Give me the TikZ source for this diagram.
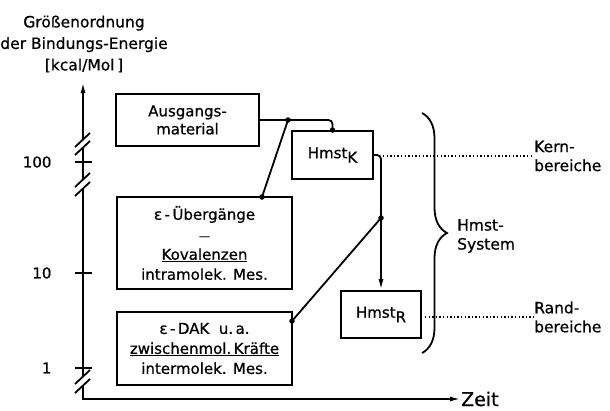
\documentclass[tikz,border=0pt]{standalone}
\usepackage{fontspec}
\setmainfont{DejaVu Sans}[UprightFeatures={FakeBold=0.7}]
\usetikzlibrary{arrows.meta,decorations.pathreplacing}
\begin{document}
\begin{tikzpicture}[x=1pt,y=-1pt,
  ln/.style={line width=1.8pt},
  bx/.style={draw,line width=1.8pt,inner sep=0pt,align=center,font=\fontsize{15}{20}\selectfont},
  dotc/.style={circle,fill,inner sep=0pt,minimum size=5.5pt},
  lbl/.style={font=\fontsize{15.5}{19}\selectfont,align=left,anchor=west,inner sep=0pt},
  arr/.style={-{Latex[length=11pt,width=5pt]}},
  dotl/.style={line width=1.3pt,dash pattern=on 1.3pt off 2.3pt},
  slashline/.style={line width=1.8pt}
]
\useasboundingbox (0,0) rectangle (610,410);

% title
\node[font=\fontsize{15.5}{21.5}\selectfont,align=center] (title) at (84,44)
  {Größenordnung\\der Bindungs-Energie\\{[}kcal/Mol\,{]}};

% boxes
\node[bx,minimum width=143pt,minimum height=52pt] (aus) at (187.5,120) {Ausgangs-\\[-2pt]material};
\node[bx,minimum width=175pt,minimum height=92pt] (ueb) at (204.5,243)
  {ε\,-\,Übergänge\\{\fontsize{11}{11}\selectfont —}\\\underline{Kovalenzen}\\intramolek. Mes.};
\node[bx,minimum width=175pt,minimum height=73pt] (dak) at (204.5,348.5)
  {ε\,-\,DAK\ \ u.\,a.\\\underline{zwischenmol.\,Kräfte}\\intermolek. Mes.};
\node[bx,minimum width=81pt,minimum height=48pt] (hk) at (332.5,155) {Hmst\raisebox{-4.5pt}{K}};
\node[bx,minimum width=80pt,minimum height=47pt] (hr) at (381,314.5) {Hmst\raisebox{-4.5pt}{R}};

% right labels
\node[lbl] (kern) at (534,156) {Kern-\\bereiche};
\node[lbl] (rand) at (534,317) {Rand-\\bereiche};
\node[lbl] (sys) at (457,236) {Hmst-\\System};

% connectors
\coordinate (j1) at (288,120);
\coordinate (u1) at (262,197);
\coordinate (j2) at (381,218);
\coordinate (d1) at (292,321);
\coordinate (kl) at (383,156);
\coordinate (rl) at (425,317);
\draw[ln,rounded corners=4pt] (aus.east) -| (hk.north);
\draw[ln] (j1) -- (u1);
\draw[ln,rounded corners=4pt,arr] (hk.east) -| (hr.north);
\draw[ln] (j2) -- (d1);
\node[dotc] at (j1) {};
\node[dotc] at (u1) {};
\node[dotc] at (j2) {};
\node[dotc] at (d1) {};
\node[dotc] at (hk.north) {};

% dotted leaders
\draw[dotl] (kl) -- (kern.west);
\draw[dotl] (rl) -- (rand.west);

% brace
\draw[ln,decorate,decoration={brace,amplitude=25pt}] (422,113) -- (422,353);

% axes
\node[anchor=base west,inner sep=0pt,font=\fontsize{19}{19}\selectfont] (zeit) at (461,406) {Zeit};
\coordinate (corner) at (83,399);
\draw[ln,arr] (83,139) -- (83,82);
\draw[ln] (83,148) -- (83,180);
\draw[ln] (83,189) -- (83,377);
\draw[ln,arr] (83,386) -- (corner) -- (zeit.west |- corner);
\draw[slashline] (75,147) -- (90,133);
\draw[slashline] (75,155) -- (90,141);
\draw[slashline] (75,187) -- (90,173);
\draw[slashline] (75,196) -- (90,182);
\draw[slashline] (75,384) -- (90,370);
\draw[slashline] (75,393) -- (90,379);
% ticks
\draw[ln] (75,162) -- (92,162);
\draw[ln] (75,273) -- (92,273);
\draw[ln] (75,368) -- (92,368);
\node[anchor=east,font=\fontsize{15}{18}\selectfont] (t100) at (55,162) {100};
\node[anchor=east,font=\fontsize{15}{18}\selectfont] (t10) at (55,273) {10};
\node[anchor=east,font=\fontsize{15}{18}\selectfont] (t1) at (55,368) {1};
\end{tikzpicture}
\end{document}
